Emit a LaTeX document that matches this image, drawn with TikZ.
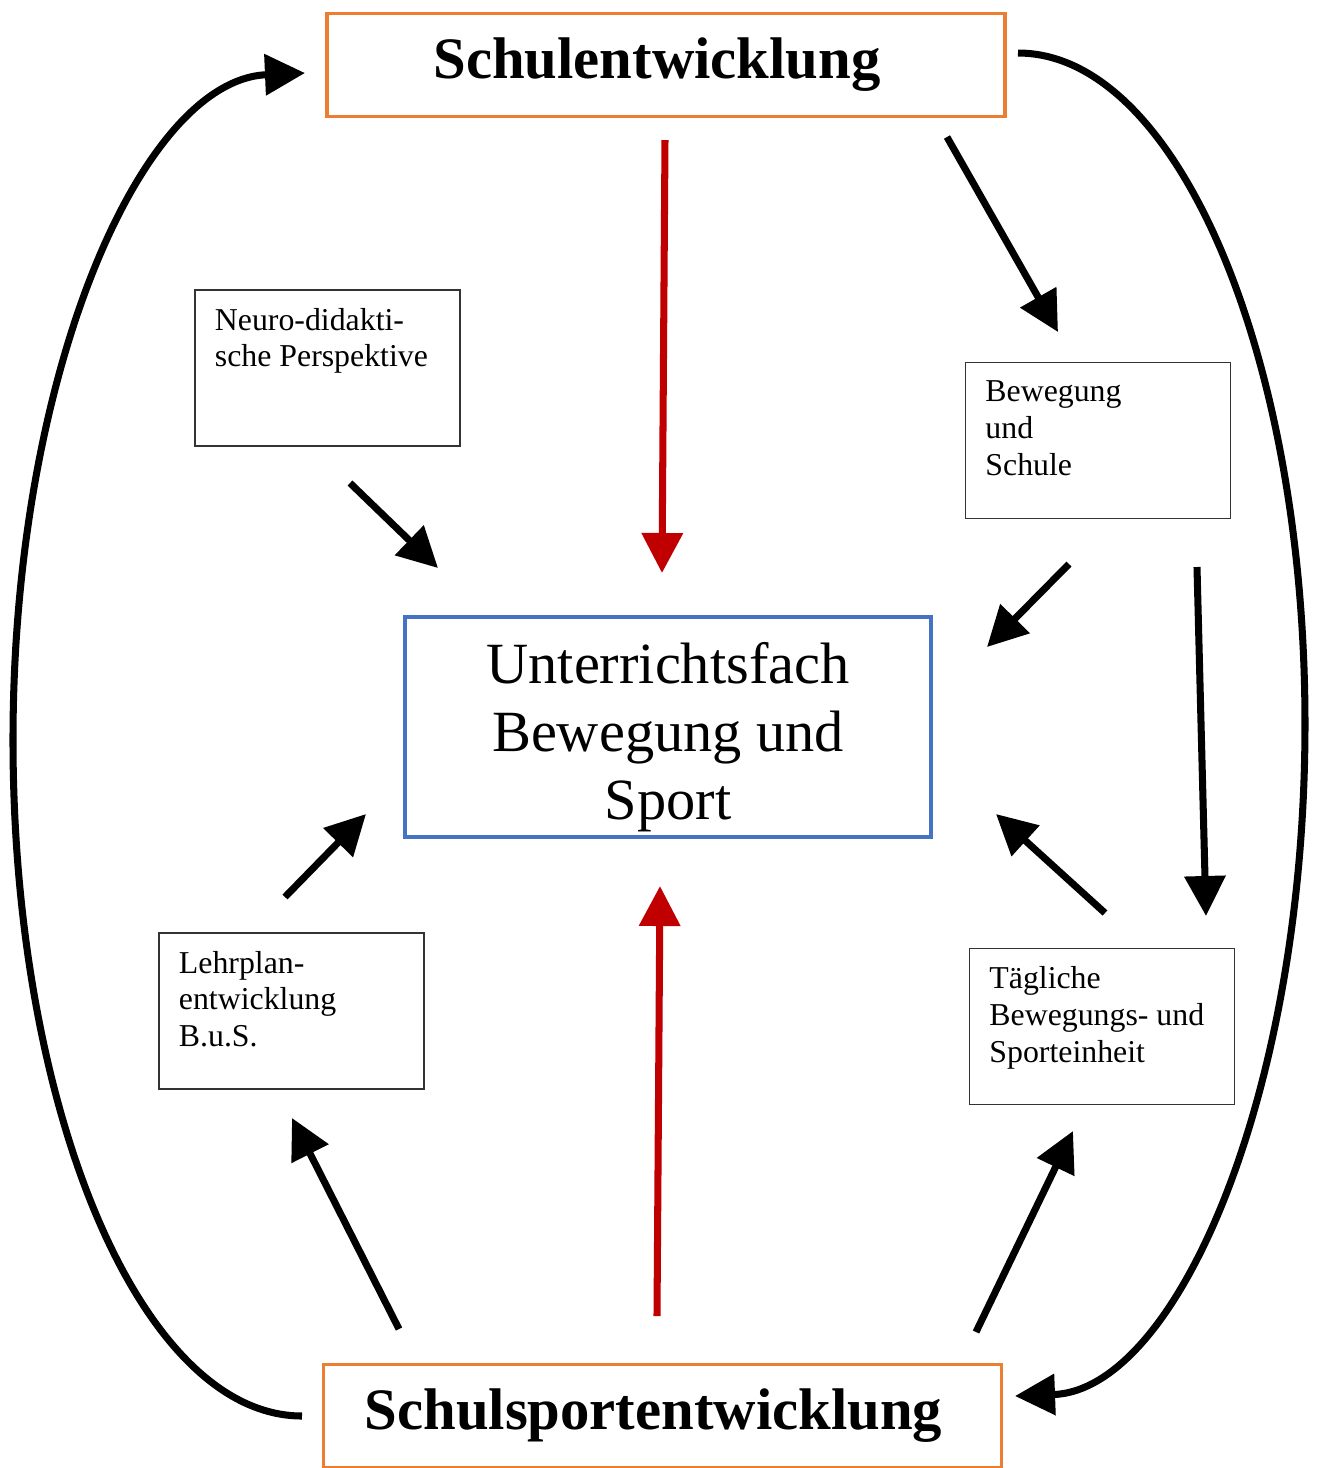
\documentclass[tikz,border=0pt]{standalone}
\usepackage{fontspec}
\setmainfont{Liberation Serif}
\usetikzlibrary{arrows.meta}

\begin{document}
\begin{tikzpicture}[x=0.01cm,y=-0.01cm,
    headbox/.style={draw=orangeline, line width=1pt, minimum width=6.78cm, minimum height=1.03cm,
        font=\fontsize{16.7pt}{20pt}\selectfont\bfseries},
    smallbox/.style={draw=black!80, line width=0.4pt, inner xsep=0.2cm, inner ysep=0.18cm,
        font=\fontsize{9.05pt}{10.5pt}\selectfont},
    fachbox/.style={draw=blueline, line width=1pt, minimum width=5.26cm, minimum height=2.2cm},
    fachtext/.style={align=center, font=\fontsize{16.6pt}{19.35pt}\selectfont},
    thickarrow/.style={line width=2pt, -{Triangle[length=4mm,width=4mm]}},
    redarrow/.style={thickarrow, draw=redline, -{Triangle[length=4mm,width=4mm,fill=redline]}}]
    % Define colors
    \definecolor{orangeline}{RGB}{237,125,49}
    \definecolor{blueline}{RGB}{68,114,196}
    \definecolor{redline}{RGB}{192,0,0}
    \useasboundingbox (0,0) rectangle (1319,1468);

    % Main boxes
    \node[headbox] (schule) at (666,65) {Schulentwicklung\hspace*{1.8mm}};
    \node[headbox] (schulsport) at (662.5,1416) {Schulsportentwicklung\hspace*{1.8mm}};
    \node[fachbox] (fach) at (668,727) {};
    \node[fachtext, yshift=-1mm] (fachlabel) at (fach.center) {Unterrichtsfach\\Bewegung und\\Sport};

    % Small boxes
    \node[smallbox] (neuro) at (327.5,368) {\parbox[t][1.2cm][t]{2.25cm}{\raggedright Neuro-didakti-\\sche Perspektive}};
    \node[smallbox] (bewschule) at (1098,440.5) {\parbox[t][1.2cm][t]{2.25cm}{\raggedright Bewegung\\und\\Schule}};
    \node[smallbox] (lehrplan) at (291.5,1011) {\parbox[t][1.2cm][t]{2.25cm}{\raggedright Lehrplan-\\entwicklung\\B.u.S.}};
    \node[smallbox] (taeglich) at (1102,1026.5) {\parbox[t][1.2cm][t]{2.25cm}{\raggedright Tägliche\\Bewegungs- und\\Sporteinheit}};

    % Arrow end points
    \coordinate (lstart) at (302,1416);
    \coordinate (ltip) at (305,73);
    \coordinate (rstart) at (1018,53);
    \coordinate (rtip) at (1015,1396);
    \coordinate (redtopstart) at (665,140);
    \coordinate (redtoptip) at (662,573);
    \coordinate (redbotstart) at (657,1316);
    \coordinate (redbottip) at (660,886);

    % Big curved arrows
    \draw[thickarrow] (lstart) .. controls (142,1416) and (13,1113) .. (13,740)
        .. controls (13,372) and (142,80) .. (ltip);
    \draw[thickarrow] (rstart) .. controls (1176,53) and (1305,353) .. (1305,724)
        .. controls (1305,1095) and (1176,1390) .. (rtip);

    % Red arrows
    \draw[redarrow] (redtopstart) -- (redtoptip);
    \draw[redarrow] (redbotstart) -- (redbottip);

    % Black arrows
    \coordinate (a1s) at (947,137);   \coordinate (a1e) at (1058,332);
    \coordinate (a2s) at (350,483);   \coordinate (a2e) at (438,568);
    \coordinate (a3s) at (1069,564);  \coordinate (a3e) at (987,647);
    \coordinate (a4s) at (1197,567);  \coordinate (a4e) at (1206,916);
    \coordinate (a5s) at (1105,913);  \coordinate (a5e) at (996,814);
    \coordinate (a6s) at (285,897);   \coordinate (a6e) at (366,814);
    \coordinate (a7s) at (399,1329);  \coordinate (a7e) at (292,1118);
    \coordinate (a8s) at (976,1332);  \coordinate (a8e) at (1073,1131);
    \foreach \i in {1,...,8}
        \draw[thickarrow] (a\i s) -- (a\i e);
\end{tikzpicture}
\end{document}
